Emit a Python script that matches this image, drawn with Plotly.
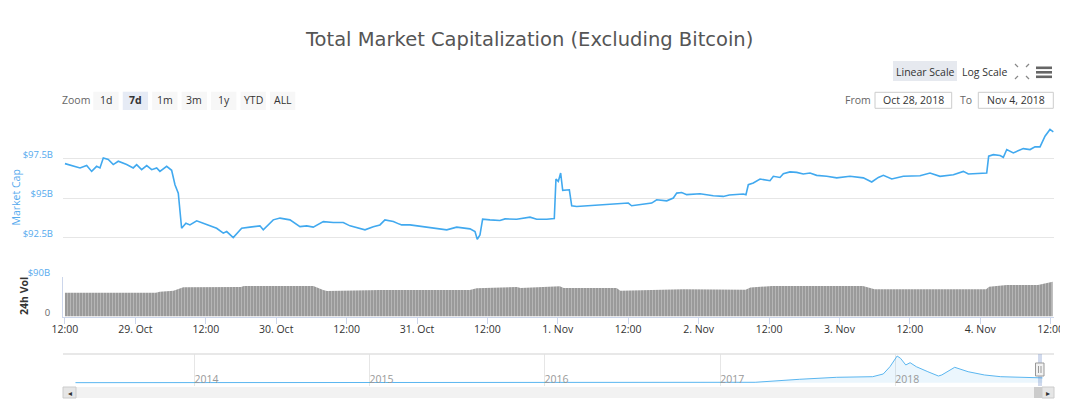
import plotly.graph_objects as go

# the page puts the figure 8px in from the top-left corner of the window
W, H, OFF = 1060, 396, 8

# market cap excluding bitcoin, billions USD
mc_time = [
    "2018-10-28 12:00", "2018-10-28 13:25", "2018-10-28 14:34", "2018-10-28 15:42", "2018-10-28 16:33",
    "2018-10-28 17:24", "2018-10-28 17:58", "2018-10-28 18:32", "2018-10-28 19:23", "2018-10-28 20:14",
    "2018-10-28 21:05", "2018-10-28 22:31", "2018-10-28 23:38",
    "2018-10-29 00:13", "2018-10-29 01:04", "2018-10-29 01:56", "2018-10-29 02:47", "2018-10-29 03:38",
    "2018-10-29 04:11", "2018-10-29 05:20", "2018-10-29 06:11", "2018-10-29 06:45", "2018-10-29 07:19",
    "2018-10-29 07:53", "2018-10-29 08:37", "2018-10-29 09:18", "2018-10-29 10:27", "2018-10-29 11:34",
    "2018-10-29 12:43", "2018-10-29 13:51", "2018-10-29 14:59", "2018-10-29 15:34", "2018-10-29 16:41",
    "2018-10-29 18:07", "2018-10-29 19:32", "2018-10-29 21:14", "2018-10-29 21:48", "2018-10-29 23:30",
    "2018-10-30 00:39", "2018-10-30 02:21", "2018-10-30 04:03", "2018-10-30 05:12", "2018-10-30 06:19",
    "2018-10-30 08:02", "2018-10-30 09:44", "2018-10-30 11:26", "2018-10-30 12:35", "2018-10-30 14:17",
    "2018-10-30 15:08", "2018-10-30 16:33", "2018-10-30 17:41", "2018-10-30 18:32", "2018-10-30 19:58",
    "2018-10-30 20:59", "2018-10-30 21:23", "2018-10-30 22:48", "2018-10-30 23:57",
    "2018-10-31 01:04", "2018-10-31 02:46", "2018-10-31 05:04", "2018-10-31 06:46", "2018-10-31 09:02",
    "2018-10-31 09:53", "2018-10-31 10:16", "2018-10-31 10:44", "2018-10-31 11:11", "2018-10-31 12:26",
    "2018-10-31 14:08", "2018-10-31 15:00", "2018-10-31 16:59", "2018-10-31 19:16", "2018-10-31 20:24",
    "2018-10-31 22:06", "2018-10-31 23:24", "2018-10-31 23:41",
    "2018-11-01 00:05", "2018-11-01 00:29", "2018-11-01 00:50", "2018-11-01 01:58", "2018-11-01 02:22",
    "2018-11-01 03:13", "2018-11-01 05:29", "2018-11-01 08:20", "2018-11-01 10:02", "2018-11-01 12:01",
    "2018-11-01 12:35", "2018-11-01 14:34", "2018-11-01 16:00", "2018-11-01 16:51", "2018-11-01 18:34",
    "2018-11-01 19:41", "2018-11-01 20:16", "2018-11-01 21:07", "2018-11-01 21:58",
    "2018-11-02 00:14", "2018-11-02 02:30", "2018-11-02 04:12", "2018-11-02 05:13", "2018-11-02 07:37",
    "2018-11-02 08:04", "2018-11-02 08:28", "2018-11-02 09:19", "2018-11-02 10:28", "2018-11-02 12:10",
    "2018-11-02 12:44", "2018-11-02 13:52", "2018-11-02 14:26", "2018-11-02 15:34", "2018-11-02 16:43",
    "2018-11-02 17:50", "2018-11-02 18:59", "2018-11-02 20:07", "2018-11-02 21:50", "2018-11-02 23:32",
    "2018-11-03 01:48", "2018-11-03 04:04", "2018-11-03 05:30", "2018-11-03 06:38", "2018-11-03 07:29",
    "2018-11-03 08:55", "2018-11-03 10:53", "2018-11-03 13:44", "2018-11-03 15:26", "2018-11-03 17:08",
    "2018-11-03 19:25", "2018-11-03 21:07", "2018-11-03 21:58",
    "2018-11-04 00:49", "2018-11-04 01:06", "2018-11-04 01:26", "2018-11-04 02:14", "2018-11-04 03:22",
    "2018-11-04 03:56", "2018-11-04 04:31", "2018-11-04 05:38", "2018-11-04 07:20", "2018-11-04 08:29",
    "2018-11-04 09:20", "2018-11-04 10:11", "2018-11-04 11:02", "2018-11-04 11:53", "2018-11-04 12:27",
]
mc_value = [
    97.18, 97.01, 96.91, 97.06, 96.69, 97.01, 96.91, 97.54, 97.44, 97.12, 97.33, 97.12, 96.91,
    97.12, 96.80, 97.06, 96.80, 96.91, 96.69, 97.01, 96.76, 95.85, 95.32, 93.10, 93.42, 93.31,
    93.57, 93.42, 93.25, 93.10, 92.79, 92.89, 92.51, 93.10, 93.17, 93.25, 93.00, 93.63,
    93.74, 93.63, 93.20, 93.25, 93.17, 93.52, 93.46, 93.46, 93.25, 93.10, 93.00, 93.20, 93.31,
    93.63, 93.52, 93.36, 93.31, 93.31, 93.25,
    93.20, 93.10, 93.00, 93.17, 93.06, 92.89, 92.40, 92.68, 93.67, 93.63, 93.59, 93.69, 93.67,
    93.80, 93.67, 93.67, 93.71, 96.21,
    96.06, 96.59, 95.49, 95.53, 94.52, 94.47, 94.52, 94.58, 94.63, 94.69, 94.52, 94.64, 94.69,
    94.90, 94.83, 95.01, 95.32, 95.36, 95.22,
    95.28, 95.15, 95.11, 95.20, 95.26, 95.22, 95.85, 95.96, 96.21, 96.10, 96.38, 96.31, 96.55,
    96.66, 96.63, 96.53, 96.59, 96.44, 96.38, 96.28,
    96.38, 96.28, 96.02, 96.31, 96.44, 96.21, 96.38, 96.42, 96.59, 96.38, 96.48, 96.69, 96.53,
    96.57, 96.59, 97.65, 97.75, 97.69, 97.58, 98.07, 97.86, 98.13, 98.07, 98.24, 98.24, 98.91,
    99.34, 99.19,
]

# 24h volume, billions USD
vol_time = [
    "2018-10-28 12:00", "2018-10-29 03:30", "2018-10-29 04:10", "2018-10-29 06:30", "2018-10-29 08:10",
    "2018-10-29 18:00", "2018-10-29 18:30", "2018-10-30 06:20", "2018-10-30 08:00", "2018-10-30 08:40",
    "2018-10-30 17:40", "2018-10-31 09:00", "2018-10-31 10:10", "2018-10-31 14:40", "2018-10-31 17:00",
    "2018-10-31 17:40", "2018-11-01 00:20", "2018-11-01 01:00", "2018-11-01 10:00", "2018-11-01 10:40",
    "2018-11-01 17:30", "2018-11-01 21:20", "2018-11-02 08:00", "2018-11-02 08:50", "2018-11-02 12:30",
    "2018-11-03 04:00", "2018-11-03 06:00", "2018-11-04 01:00", "2018-11-04 01:30", "2018-11-04 04:30",
    "2018-11-04 09:50", "2018-11-04 11:20", "2018-11-04 12:20",
]
vol_value = [
    53.8, 53.8, 56.0, 58.3, 66.0, 66.5, 69.0, 69.0, 60.0, 57.7, 59.9, 59.9, 63.8, 66.7, 66.7,
    64.4, 68.3, 64.4, 64.4, 58.3, 59.9, 61.5, 60.5, 65.5, 69.0, 69.0, 61.5, 61.5, 67.4, 71.0,
    71.0, 76.4, 78.7,
]

# navigator: full history, billions USD
nav_time = [
    "2013-04-28", "2014-01-01", "2014-06-01", "2015-01-01", "2016-01-01", "2016-06-15", "2017-01-01",
    "2017-03-15", "2017-06-16", "2017-09-01", "2017-11-15", "2017-12-07", "2017-12-21", "2018-01-05",
    "2018-01-12", "2018-01-23", "2018-02-01", "2018-02-14", "2018-03-10", "2018-04-01", "2018-04-08",
    "2018-05-05", "2018-06-02", "2018-07-06", "2018-08-09", "2018-09-20", "2018-11-04",
]
nav_value = [
    0.5, 3, 2, 1.5, 1.5, 3, 3, 8, 69, 109, 121, 176, 323, 539, 493, 358, 404, 323, 222, 135, 156,
    311, 222, 156, 121, 109, 97,
]

x_ticks = [
    "2018-10-28 12:00", "2018-10-29 00:00", "2018-10-29 12:00", "2018-10-30 00:00", "2018-10-30 12:00",
    "2018-10-31 00:00", "2018-10-31 12:00", "2018-11-01 00:00", "2018-11-01 12:00", "2018-11-02 00:00",
    "2018-11-02 12:00", "2018-11-03 00:00", "2018-11-03 12:00", "2018-11-04 00:00", "2018-11-04 12:00",
]
x_ticktext = ["12:00", "29. Oct", "12:00", "30. Oct", "12:00", "31. Oct", "12:00", "1. Nov",
              "12:00", "2. Nov", "12:00", "3. Nov", "12:00", "4. Nov", "12:00"]
mc_ticks = [92.5, 95, 97.5, 100]
mc_ticktext = ["$92.5B", "$95B", "$97.5B", ""]
nav_years = ["2014-01-01", "2015-01-01", "2016-01-01", "2017-01-01", "2018-01-01"]
nav_yeartext = ["2014", "2015", "2016", "2017", "2018"]
zoom_buttons = ["1d", "7d", "1m", "3m", "1y", "YTD", "ALL"]

FONT = "Open Sans"
TITLE_FONT = "DejaVu Sans"
BLUE = "#41a9ef"
LABEL_BLUE = "#55aaee"


# window pixels -> paper fractions
def px(x):
    return (x - OFF) / W


def py(y):
    return 1 - (y - OFF) / H


X0, X1 = 63, 1054
fig = go.Figure()

fig.add_trace(go.Scatter(x=mc_time, y=mc_value, mode="lines", line=dict(color=BLUE, width=1.6),
                         xaxis="x", yaxis="y", hoverinfo="skip"))
fig.add_trace(go.Scatter(x=vol_time, y=vol_value, mode="lines", line=dict(width=0),
                         fill="tozeroy", fillcolor="#9a9a9a",
                         fillpattern=dict(shape="|", size=3, solidity=0.35,
                                          fgcolor="#d2d2d2", bgcolor="#9a9a9a"),
                         xaxis="x2", yaxis="y2", hoverinfo="skip"))
fig.add_trace(go.Scatter(x=nav_time, y=nav_value, mode="lines", line=dict(color="#5ab6f0", width=1),
                         fill="tozeroy", fillcolor="rgba(90,182,240,0.12)",
                         xaxis="x3", yaxis="y3", hoverinfo="skip"))

dom_x = [px(X0), px(X1)]
fig.update_layout(
    width=W, height=H, autosize=False, showlegend=False,
    margin=dict(l=0, r=0, t=0, b=0, pad=0),
    paper_bgcolor="white", plot_bgcolor="white",
    font=dict(family=FONT, size=10.5, color="#333333"),
    xaxis=dict(domain=dom_x, anchor="y", type="date", matches="x2", showticklabels=False,
               showgrid=False, zeroline=False, automargin=False),
    yaxis=dict(domain=[py(258), py(119)], anchor="x", range=[91.22, 100], tickvals=mc_ticks,
               ticktext=mc_ticktext, showgrid=True, gridcolor="#e6e6e6", zeroline=False,
               tickfont=dict(color=LABEL_BLUE, size=9.5), ticks="", ticklabelstandoff=9,
               ticklabelshift=-4, automargin=False),
    xaxis2=dict(domain=dom_x, anchor="y2", type="date",
                range=["2018-10-28 11:40", "2018-11-04 12:34"],
                tickvals=x_ticks, ticktext=x_ticktext, ticks="outside", ticklen=6,
                tickcolor="#ccd6eb", showline=True, linecolor="#ccd6eb", showgrid=False,
                zeroline=False, tickfont=dict(size=10.5, color="#333333"), ticklabelstandoff=-3,
                automargin=False),
    yaxis2=dict(domain=[py(316.5), py(276.7)], anchor="x2", range=[0, 90], tickvals=[0, 90],
                ticktext=["<span style='color:#666666'>0</span>",
                          f"<span style='color:{LABEL_BLUE}'>$90B</span>"],
                showgrid=True, gridcolor="#e6e6e6", zeroline=False, showline=True,
                linecolor="#ccd6eb", ticks="", tickfont=dict(size=9.5), ticklabelstandoff=10,
                ticklabelshift=-4, automargin=False),
    xaxis3=dict(domain=dom_x, anchor="y3", type="date", range=["2013-04-02", "2018-11-28"],
                tickvals=nav_years, ticktext=nav_yeartext, showgrid=True, gridcolor="#e6e6e6",
                ticklabelposition="inside right", ticklabelstandoff=-5,
                tickfont=dict(size=10.5, color="#999999"),
                zeroline=False, showline=False, automargin=False),
    yaxis3=dict(domain=[py(386), py(354)], anchor="x3", range=[-67, 580], visible=False,
                automargin=False),
)

shapes = []
ann = []


def rect(x0, y0, x1, y1, fill, line=None, lw=1):
    shapes.append(dict(type="rect", xref="paper", yref="paper", x0=px(x0), x1=px(x1),
                       y0=py(y1), y1=py(y0), fillcolor=fill,
                       line=dict(color=line or fill, width=lw if line else 0), layer="above"))


def text(x, y, s, size=10.5, color="#333333", xanchor="center", bold=False, angle=0, family=FONT):
    ann.append(dict(x=px(x), y=py(y), xref="paper", yref="paper", text=f"<b>{s}</b>" if bold else s,
                    showarrow=False, xanchor=xanchor, yanchor="middle", textangle=angle,
                    font=dict(size=size, color=color, family=family)))


# title
text(528.5, 40, "Total Market Capitalization (Excluding Bitcoin)", size=19.5, color="#555555",
     family=TITLE_FONT)

# range selector
text(75.5, 100, "Zoom", color="#666666")
for i, lab in enumerate(zoom_buttons):
    bx = 93.3 + i * 29.45
    rect(bx, 91.7, bx + 25.3, 110, "#e6ebf5" if lab == "7d" else "#f7f7f7")
    text(bx + 12.65, 100.5, lab, bold=(lab == "7d"))

# scale buttons and icons
rect(893, 61, 957, 81, "#e6e9ef")
text(925, 71.5, "Linear Scale")
text(984, 71.5, "Log Scale")
for cx, cy, dx, dy in [(1018, 67, -1, -1), (1026, 67, 1, -1), (1018, 76, -1, 1), (1026, 76, 1, 1)]:
    shapes.append(dict(type="line", xref="paper", yref="paper", x0=px(cx), y0=py(cy),
                       x1=px(cx + 3 * dx), y1=py(cy + 3 * dy), line=dict(color="#888888", width=1.2)))
for yy in [66.5, 71, 75.5]:
    rect(1036, yy, 1052, yy + 2.6, "#666666")

# date inputs
text(858, 100, "From", color="#666666")
rect(875, 92.3, 951.7, 108.3, "white", "#cccccc")
text(913.4, 100.5, "Oct 28, 2018")
text(966, 100, "To", color="#666666")
rect(978.3, 92.3, 1053.3, 108.3, "white", "#cccccc")
text(1015.8, 100.5, "Nov 4, 2018")

# axis titles
text(15.5, 198, "Market Cap", size=10.5, color=LABEL_BLUE, angle=-90)
text(24, 296, "24h Vol", size=10.5, color="#333333", bold=True, angle=-90)

# navigator border, mask and handle
shapes.append(dict(type="line", xref="paper", yref="paper", x0=px(X0), x1=px(X1), y0=py(354),
                   y1=py(354), line=dict(color="#e0e0e0", width=1.5)))
rect(1038, 354, 1042, 386, "rgba(102,133,194,0.3)")
rect(1035.5, 363, 1044, 376, "#f2f2f2", "#999999")
for lx in [1038.5, 1041]:
    shapes.append(dict(type="line", xref="paper", yref="paper", x0=px(lx), x1=px(lx), y0=py(366),
                       y1=py(373), line=dict(color="#999999", width=1)))

# scrollbar
rect(X0, 387, X1, 398, "#f2f2f2")
rect(X0, 387, 76, 398, "#e6e6e6", "#cccccc")
rect(1034, 387, 1042, 398, "#cccccc")
rect(1042, 387, X1, 398, "#e6e6e6", "#cccccc")
text(69.5, 392.5, "◂", size=8)
text(1048, 392.5, "▸", size=8)

fig.update_layout(shapes=shapes, annotations=ann)
fig.write_html("out.html")
